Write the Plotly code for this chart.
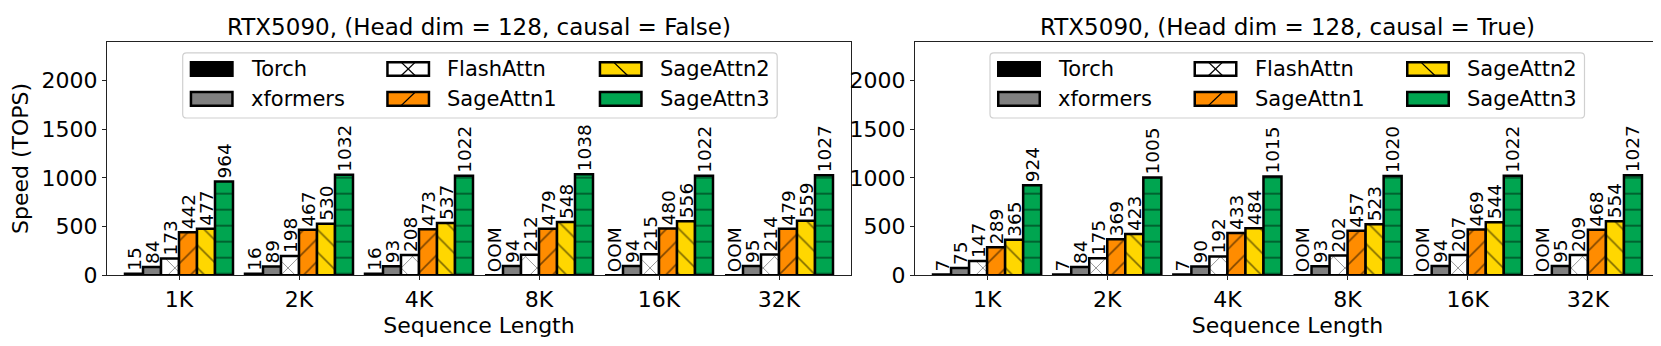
import plotly.graph_objects as go

W, H = 1661, 346
FONT = "DejaVu Sans"

seq_labels = ["1K", "2K", "4K", "8K", "16K", "32K"]
methods = ["Torch", "xformers", "FlashAttn", "SageAttn1", "SageAttn2", "SageAttn3"]
colors = ["#000000", "#808080", "#ffffff", "#ff8c00", "#ffd700", "#00a550"]
hatches = ["", "", "x", "/", "\\", "-"]

# causal = False (None = OOM)
torch_nc = [15, 16, 16, None, None, None]
xformers_nc = [84, 89, 93, 94, 94, 95]
flash_nc = [173, 198, 208, 212, 215, 214]
sage1_nc = [442, 467, 473, 479, 480, 479]
sage2_nc = [477, 530, 537, 548, 556, 559]
sage3_nc = [964, 1032, 1022, 1038, 1022, 1027]

# causal = True
torch_c = [7, 7, 7, None, None, None]
xformers_c = [75, 84, 90, 93, 94, 95]
flash_c = [147, 175, 192, 202, 207, 209]
sage1_c = [289, 369, 433, 457, 469, 468]
sage2_c = [365, 423, 484, 523, 544, 554]
sage3_c = [924, 1005, 1015, 1020, 1022, 1027]

panels = [
    ("RTX5090, (Head dim = 128, causal = False)",
     [torch_nc, xformers_nc, flash_nc, sage1_nc, sage2_nc, sage3_nc]),
    ("RTX5090, (Head dim = 128, causal = True)",
     [torch_c, xformers_c, flash_c, sage1_c, sage2_c, sage3_c]),
]

# pixel boxes of the two axes (left, right) and shared top/bottom
ax_px = [(99, 843), (907, 1652)]
ax_top, ax_bot = 35, 277.7


def px(x):
    return x / W


def py(y):
    return 1 - y / H


fig = go.Figure()

for p, (title, series) in enumerate(panels):
    xa = "x" if p == 0 else "x2"
    ya = "y" if p == 0 else "y2"
    for k, name in enumerate(methods):
        vals = series[k]
        fig.add_trace(go.Bar(
            x=list(range(len(seq_labels))),
            y=[0 if v is None else v for v in vals],
            text=["OOM" if v is None else str(v) for v in vals],
            textposition="outside", textangle=-90, constraintext="none",
            cliponaxis=False,
            outsidetextfont=dict(family=FONT, size=18.5, color="black"),
            marker=dict(
                color=colors[k],
                line=dict(color="black", width=2.5),
                pattern=dict(shape=hatches[k], size=16, solidity=0.1,
                             fgcolor="black"),
            ),
            name=name, showlegend=False, xaxis=xa, yaxis=ya,
        ))

    fig.add_annotation(
        text=title, x=px(sum(ax_px[p]) / 2), y=py(19.5),
        xref="paper", yref="paper", showarrow=False,
        xanchor="center", yanchor="middle",
        font=dict(family=FONT, size=23, color="black"),
    )


def add_legend(fig, left):
    # frame
    x0, x1 = px(left), px(left + 594.5)
    y0, y1 = py(114.3), py(46.7)
    rx, ry = 4 / W, 4 / H
    path = (f"M{x0 + rx},{y1} L{x1 - rx},{y1} Q{x1},{y1} {x1},{y1 - ry} "
            f"L{x1},{y0 + ry} Q{x1},{y0} {x1 - rx},{y0} L{x0 + rx},{y0} "
            f"Q{x0},{y0} {x0},{y0 + ry} L{x0},{y1 - ry} Q{x0},{y1} {x0 + rx},{y1} Z")
    fig.add_shape(type="path", path=path, xref="paper", yref="paper",
                  line=dict(color="#d0d0d0", width=1.2),
                  fillcolor="rgba(255,255,255,0.8)", layer="above")
    col_off = [7, 203.5, 416]
    row_top = [55, 86]
    for k, name in enumerate(methods):
        c, r = k // 2, k % 2
        a, b = left + col_off[c] + 1.25, left + col_off[c] + 44 - 1.25
        t, u = row_top[r] + 1.25, row_top[r] + 16.7 - 1.25
        fig.add_shape(type="rect", xref="paper", yref="paper",
                      x0=px(a), x1=px(b), y0=py(u), y1=py(t),
                      fillcolor=colors[k], line=dict(color="black", width=2.5),
                      layer="above")
        cx, h = (a + b) / 2, (u - t)
        diag = []
        if hatches[k] in ("/", "x"):
            diag.append((cx - h / 2, u, cx + h / 2, t))
        if hatches[k] in ("\\", "x"):
            diag.append((cx - h / 2, t, cx + h / 2, u))
        for (xa_, ya_, xb_, yb_) in diag:
            fig.add_shape(type="line", xref="paper", yref="paper",
                          x0=px(xa_), y0=py(ya_), x1=px(xb_), y1=py(yb_),
                          line=dict(color="black", width=1.3), layer="above")
        fig.add_annotation(
            text=name, x=px(left + col_off[c] + 59), y=py(row_top[r] + 8.3),
            xref="paper", yref="paper", showarrow=False,
            xanchor="left", yanchor="middle",
            font=dict(family=FONT, size=21, color="black"),
        )


add_legend(fig, 174.7)
add_legend(fig, 982)

axis_common = dict(
    showline=True, mirror=True, linecolor="#222", linewidth=1.2,
    ticks="outside", ticklen=4, tickwidth=1.2, tickcolor="#222",
    showgrid=False, zeroline=False,
    tickfont=dict(family=FONT, size=22, color="black"),
)
ydom = [1 - ax_bot / H, 1 - ax_top / H]
title_font = dict(family=FONT, size=22, color="black")

fig.update_layout(
    width=W, height=H,
    margin=dict(l=0, r=0, t=0, b=0),
    plot_bgcolor="white", paper_bgcolor="white",
    barmode="group", bargap=0.1, bargroupgap=0,
    font=dict(family=FONT, color="black"),
    xaxis=dict(domain=[px(ax_px[0][0]), px(ax_px[0][1])], range=[-0.6, 5.6],
               tickvals=list(range(6)), ticktext=seq_labels, anchor="y",
               title=dict(text="Sequence Length", standoff=6, font=title_font),
               **axis_common),
    yaxis=dict(domain=ydom, range=[0, 2400], tickvals=[0, 500, 1000, 1500, 2000],
               anchor="x",
               title=dict(text="Speed (TOPS)", standoff=8, font=title_font),
               **axis_common),
    xaxis2=dict(domain=[px(ax_px[1][0]), px(ax_px[1][1])], range=[-0.6, 5.6],
                tickvals=list(range(6)), ticktext=seq_labels, anchor="y2",
                title=dict(text="Sequence Length", standoff=6, font=title_font),
                **axis_common),
    yaxis2=dict(domain=ydom, range=[0, 2400], tickvals=[0, 500, 1000, 1500, 2000],
                anchor="x2", **axis_common),
)

fig.write_html("out.html")
